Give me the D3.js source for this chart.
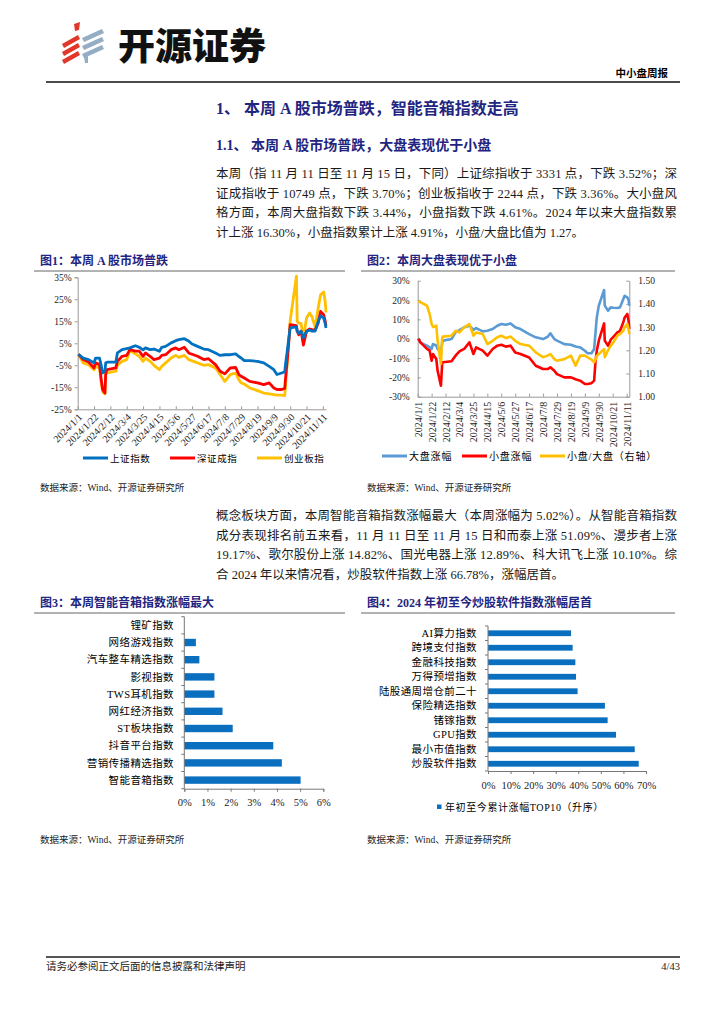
<!DOCTYPE html>
<html>
<head>
<meta charset="utf-8">
<script src="https://cdn.jsdelivr.net/npm/d3@7"></script>
<style>
  html, body { margin: 0; padding: 0; background: #fff; }
  svg { display: block; }
</style>
</head>
<body>
<div id="page"></div>
<script>
// ---- Figure 1: A-share indices, cumulative change since 2024/1/1 (%) ----
const c1Dates = ["2024/1/2","2024/1/8","2024/1/15","2024/1/22","2024/1/24","2024/1/29","2024/1/31","2024/2/2","2024/2/5","2024/2/6",
  "2024/2/8","2024/2/19","2024/2/21","2024/2/27","2024/3/4","2024/3/8","2024/3/15","2024/3/20","2024/3/25","2024/3/28",
  "2024/4/3","2024/4/8","2024/4/15","2024/4/18","2024/4/23","2024/4/30","2024/5/6","2024/5/10","2024/5/17","2024/5/23",
  "2024/5/27","2024/6/3","2024/6/11","2024/6/17","2024/6/26","2024/7/2","2024/7/8","2024/7/15","2024/7/22","2024/7/26",
  "2024/7/29","2024/8/2","2024/8/9","2024/8/19","2024/8/27","2024/9/3","2024/9/9","2024/9/13","2024/9/19","2024/9/23",
  "2024/9/24","2024/9/26","2024/9/27","2024/9/30","2024/10/8","2024/10/9","2024/10/11","2024/10/14","2024/10/17","2024/10/21",
  "2024/10/25","2024/10/28","2024/11/1","2024/11/5","2024/11/8","2024/11/12","2024/11/14","2024/11/15"];
const c1Shanghai = [0,-1.7,-2.4,-3.9,-1.7,-1.7,-4.7,-8.5,-7.5,-3.9,
  -3.6,-3.6,0.6,2.1,2.6,2.9,3.9,3.2,2.0,2.9,
  2.1,2.4,1.4,3.2,3.6,5.2,6.2,6.7,7.1,5.9,
  4.7,3.6,2.4,2.1,0.6,-0.5,-0.2,-0.2,0.2,-1.0,
  -1.7,-2.9,-2.9,-3.2,-3.9,-5.5,-7.0,-9.2,-8.5,-8.0,
  -4.5,0.8,3.8,12.0,12.5,10.5,9.7,10.5,7.5,10.5,
  11.0,10.5,10.5,15.0,17.5,16.5,14.0,12.0];
const c1Shenzhen = [0,-2.4,-3.5,-6.2,-3.9,-4.7,-10.8,-16.0,-17.6,-8.5,
  -7.0,-6.2,-3.2,-0.9,-0.5,2.1,1.4,1.4,-0.9,0.6,
  -0.9,-2.4,-1.7,-0.5,-0.2,2.1,2.9,2.1,3.2,0.5,
  0.0,-0.9,-2.4,-2.0,-4.7,-7.7,-8.9,-6.2,-6.0,-9.2,
  -10.0,-10.8,-12.3,-13.0,-13.8,-13.0,-15.3,-16.0,-16.0,-15.5,
  -11.0,-3.5,0.5,13.5,13.0,10.5,8.9,10.5,4.2,10.5,
  11.5,11.2,11.0,14.2,19.5,18.0,15.0,13.0];
const c1ChiNext = [0,-3.9,-4.7,-7.0,-5.5,-6.2,-12.3,-17.1,-18.0,-9.2,
  -8.5,-7.7,-5.0,-3.2,-2.4,1.7,0.2,-0.9,-3.2,-1.7,
  -3.2,-5.0,-7.0,-5.5,-3.9,-1.7,-0.5,-1.4,-0.5,-2.5,
  -3.0,-3.9,-5.0,-4.7,-6.2,-9.2,-12.3,-9.2,-8.5,-11.5,
  -13.0,-13.5,-15.3,-16.5,-17.6,-18.0,-18.3,-18.6,-18.6,-18.8,
  -14.0,-5.0,0.5,15.3,35.5,15.0,14.2,14.0,7.4,16.5,
  18.8,17.0,12.5,21.0,27.0,28.3,24.0,19.0];
const c1YTicks = [-25, -15, -5, 5, 15, 25, 35];
const c1Names = ["上证指数", "深证成指", "创业板指"];

// shared date tick labels (every three weeks)
const dateTicks = ["2024/1/1","2024/1/22","2024/2/12","2024/3/4","2024/3/25","2024/4/15","2024/5/6","2024/5/27",
  "2024/6/17","2024/7/8","2024/7/29","2024/8/19","2024/9/9","2024/9/30","2024/10/21","2024/11/11"];

// ---- Figure 2: large cap vs small cap (%), and small/large ratio (right axis) ----
const c2Dates = ["2024/1/2","2024/1/5","2024/1/10","2024/1/15","2024/1/19","2024/1/22","2024/1/24","2024/1/29","2024/1/31","2024/2/5",
  "2024/2/7","2024/2/8","2024/2/21","2024/2/27","2024/3/4","2024/3/11","2024/3/19","2024/3/25","2024/3/29","2024/4/8",
  "2024/4/15","2024/4/23","2024/4/30","2024/5/6","2024/5/13","2024/5/20","2024/5/27","2024/6/4","2024/6/17","2024/6/27",
  "2024/7/8","2024/7/15","2024/7/19","2024/7/25","2024/7/29","2024/8/9","2024/8/19","2024/8/26","2024/9/2","2024/9/9",
  "2024/9/13","2024/9/19","2024/9/23","2024/9/25","2024/9/27","2024/9/30","2024/10/8","2024/10/9","2024/10/14","2024/10/18",
  "2024/10/22","2024/10/28","2024/11/1","2024/11/6","2024/11/8","2024/11/12","2024/11/14","2024/11/15"];
const c2Large = [0,-1.9,-2.8,-3.6,-4.5,-5.3,-2.8,-3.5,-5.3,-7.1,
  -1.9,-1.0,-0.2,3.3,4.5,5.9,6.7,4.5,5.5,3.8,
  4.1,5.0,6.7,7.6,7.2,7.9,5.9,5.0,2.4,0.7,
  -0.2,1.0,2.8,-0.2,-1.0,-2.8,-3.1,-4.0,-4.5,-6.2,
  -7.5,-7.5,-5.3,3.0,11.0,17.1,25.2,17.1,14.5,16.2,
  16.0,15.9,16.2,20.5,22.2,21.4,20.0,17.1];
const c2Small = [0,-1.9,-3.6,-5.3,-6.2,-11.4,-7.9,-10.5,-16.6,-24.3,
  -12.2,-12.2,-11.7,-8.8,-6.6,-5.3,-1.9,-7.9,-4.5,-6.2,
  -8.8,-5.3,-3.6,-3.1,-4.1,-3.6,-7.1,-7.9,-9.7,-14.0,
  -15.7,-15.7,-14.8,-16.6,-18.3,-20.0,-20.0,-21.0,-21.7,-23.4,
  -23.4,-23.0,-21.7,-12.0,-6.2,-1.0,7.9,-1.0,-3.6,-0.5,
  1.0,3.3,4.1,8.5,11.0,12.8,9.0,5.0];
const c2Ratio = [1.414,1.407,1.400,1.392,1.356,1.313,1.300,1.306,1.241,1.141,
  1.256,1.259,1.263,1.284,1.277,1.299,1.313,1.263,1.277,1.270,
  1.227,1.241,1.256,1.263,1.253,1.259,1.241,1.227,1.220,1.191,
  1.170,1.177,1.184,1.162,1.155,1.162,1.177,1.134,1.177,1.177,
  1.170,1.160,1.148,1.160,1.177,1.184,1.205,1.170,1.200,1.220,
  1.234,1.263,1.270,1.285,1.300,1.313,1.290,1.270];
const c2YTicks = [-30, -20, -10, 0, 10, 20, 30];
const c2RTicks = [1.00, 1.10, 1.20, 1.30, 1.40, 1.50];
const c2Names = ["大盘涨幅", "小盘涨幅", "小盘/大盘（右轴）"];

// ---- Figure 3: weekly change of concept indices (%) ----
const c3Categories = ["锂矿指数","网络游戏指数","汽车整车精选指数","影视指数","TWS耳机指数","网红经济指数","ST板块指数","抖音平台指数","营销传播精选指数","智能音箱指数"];
const c3Values = [0, 0.50, 0.65, 1.30, 1.30, 1.65, 2.09, 3.84, 4.21, 5.02];
const c3XTicks = [0, 1, 2, 3, 4, 5, 6];

// ---- Figure 4: YTD change, top 10 (%) ----
const c4Categories = ["AI算力指数","跨境支付指数","金融科技指数","万得预增指数","陆股通周增仓前二十","保险精选指数","锗镓指数","GPU指数","最小市值指数","炒股软件指数"];
const c4Values = [36.8, 37.5, 38.7, 39.0, 39.7, 51.8, 53.0, 56.7, 65.0, 66.78];
const c4XTicks = [0, 10, 20, 30, 40, 50, 60, 70];
const c4Legend = "年初至今累计涨幅TOP10（升序）";

// ---- Page text ----
const heading1 = "1、  本周 A 股市场普跌，智能音箱指数走高";
const heading2 = "1.1、  本周 A 股市场普跌，大盘表现优于小盘";
const para1 = [
  "本周（指 11 月 11 日至 11 月 15 日，下同）上证综指收于 3331 点，下跌 3.52%；深",
  "证成指收于 10749 点，下跌 3.70%；创业板指收于 2244 点，下跌 3.36%。大小盘风",
  "格方面，本周大盘指数下跌 3.44%，小盘指数下跌 4.61%。2024 年以来大盘指数累",
  "计上涨 16.30%，小盘指数累计上涨 4.91%，小盘/大盘比值为 1.27。"
];
const para2 = [
  "概念板块方面，本周智能音箱指数涨幅最大（本周涨幅为 5.02%）。从智能音箱指数",
  "成分表现排名前五来看，11 月 11 日至 11 月 15 日和而泰上涨 51.09%、漫步者上涨",
  "19.17%、歌尔股份上涨 14.82%、国光电器上涨 12.89%、科大讯飞上涨 10.10%。综",
  "合 2024 年以来情况看，炒股软件指数上涨 66.78%，涨幅居首。"
];
const figTitles = ["图1：本周 A 股市场普跌", "图2：本周大盘表现优于小盘", "图3：本周智能音箱指数涨幅最大", "图4：2024 年初至今炒股软件指数涨幅居首"];
const sourceText = "数据来源：Wind、开源证券研究所";

// fonts / colours
const serif = "'Liberation Serif','Times New Roman','Noto Sans CJK SC',serif";
const sans = "'Noto Sans CJK SC','Noto Sans',sans-serif";
const navy = "#1f2580";

const width = 724, height = 1024;
const parseDate = d3.timeParse("%Y/%m/%d");
const fmtDate = d3.timeFormat("%Y/%-m/%-d");

const svg = d3.select("#page").append("svg")
    .attr("width", width)
    .attr("height", height)
    .style("font-family", serif);

svg.append("rect").attr("width", width).attr("height", height).attr("fill", "#fff");

// ---------- header ----------
const logo = svg.append("g");
// red strokes
[[62, 44], [62, 52], [62, 60]].forEach(([x0, y0]) => {
  logo.append("polygon")
      .attr("points", `${x0},${y0} ${x0 + 16},${y0 - 9} ${x0 + 18},${y0 - 5} ${x0 + 2},${y0 + 4}`)
      .attr("fill", "#e0392b");
});
logo.append("polygon").attr("points", "74,24 80,22 79,30 75,31").attr("fill", "#e0392b");
// blue-grey strokes
[[82, 38], [82, 46], [82, 54]].forEach(([x0, y0]) => {
  logo.append("polygon")
      .attr("points", `${x0},${y0} ${x0 + 20},${y0 - 9} ${x0 + 22},${y0 - 5} ${x0 + 2},${y0 + 4}`)
      .attr("fill", "#93aec4");
});
logo.append("polygon").attr("points", "84,57 88,56 88,63 85,63").attr("fill", "#93aec4");

svg.append("text")
    .attr("x", 118).attr("y", 60)
    .attr("font-family", sans).attr("font-weight", 900).attr("font-size", 37)
    .attr("fill", "#111")
    .text("开源证券");

svg.append("text")
    .attr("x", 668).attr("y", 77)
    .attr("text-anchor", "end")
    .attr("font-family", sans).attr("font-weight", 700).attr("font-size", 10.5)
    .text("中小盘周报");

svg.append("line").attr("x1", 46).attr("x2", 680).attr("y1", 82).attr("y2", 82)
    .attr("stroke", "#111").attr("stroke-width", 1.5);

// ---------- headings & paragraphs ----------
svg.append("text").attr("x", 216).attr("y", 114)
    .attr("font-weight", 700).attr("font-size", 16).attr("fill", navy)
    .attr("font-family", "'Liberation Serif','Noto Sans CJK SC',serif")
    .text(heading1);

svg.append("text").attr("x", 216).attr("y", 150)
    .attr("font-weight", 700).attr("font-size", 14).attr("fill", navy)
    .attr("font-family", "'Liberation Serif','Noto Sans CJK SC',serif")
    .text(heading2);

function paragraph(lines, x, y0, lineH, w) {
  lines.forEach((t, i) => {
    const el = svg.append("text")
        .attr("x", x).attr("y", y0 + i * lineH)
        .attr("font-size", 12.5).attr("fill", "#1a1a1a")
        .text(t);
    if (i < lines.length - 1) el.attr("textLength", w).attr("lengthAdjust", "spacing");
  });
}
paragraph(para1, 216, 178, 19.6, 461);
paragraph(para2, 216, 520, 19.6, 461);

// ---------- figure titles, rules and sources ----------
const figBoxes = [
  {x: 40, x2: 345, y: 265, src: 491},
  {x: 367, x2: 675, y: 265, src: 491},
  {x: 40, x2: 345, y: 607, src: 843},
  {x: 367, x2: 675, y: 607, src: 843}
];
figBoxes.forEach((b, i) => {
  svg.append("text").attr("x", b.x).attr("y", b.y)
      .attr("font-weight", 700).attr("font-size", 12).attr("fill", navy)
      .attr("font-family", "'Liberation Serif','Noto Sans CJK SC',serif")
      .text(figTitles[i]);
  svg.append("line").attr("x1", b.x - 6).attr("x2", b.x2).attr("y1", b.y + 6).attr("y2", b.y + 6)
      .attr("stroke", "#666").attr("stroke-width", 1);
  svg.append("text").attr("x", b.x).attr("y", b.src)
      .attr("font-size", 9.5).attr("fill", "#222")
      .text(sourceText);
});

// ---------- footer ----------
svg.append("line").attr("x1", 46).attr("x2", 680).attr("y1", 957).attr("y2", 957)
    .attr("stroke", "#555").attr("stroke-width", 1.8);
svg.append("text").attr("x", 46).attr("y", 970)
    .attr("font-size", 10.5).attr("fill", "#222").text("请务必参阅正文后面的信息披露和法律声明");
svg.append("text").attr("x", 680).attr("y", 970).attr("text-anchor", "end")
    .attr("font-size", 10.5).attr("fill", "#222").text("4/43");

// small helper for axis styling
function styleAxis(g, color) {
  g.select(".domain").attr("stroke", color);
  g.selectAll(".tick line").attr("stroke", color);
  g.selectAll(".tick text").attr("fill", "#222").attr("font-family", serif);
}

// ---------- Figure 1 ----------
const x1 = d3.scaleTime()
    .domain([parseDate("2024/1/1"), parseDate("2024/11/15")])
    .range([77.7, 326]);
const y1 = d3.scaleLinear().domain([-25, 35]).range([409.3, 277.3]);

const g1 = svg.append("g");
g1.append("g").attr("transform", "translate(77.7,0)")
    .call(d3.axisLeft(y1).tickValues(c1YTicks).tickSize(3).tickFormat(d => d + "%"))
    .call(g => { styleAxis(g, "#999"); g.selectAll(".tick text").attr("font-size", 9.5); });

g1.append("g").attr("transform", "translate(0,409.3)")
    .call(d3.axisBottom(x1).tickValues(dateTicks.map(parseDate)).tickSizeInner(-3).tickSizeOuter(0).tickFormat(fmtDate))
    .call(g => {
      styleAxis(g, "#999");
      g.selectAll(".tick text")
          .attr("font-size", 10)
          .attr("text-anchor", "end")
          .attr("x", 0).attr("y", 0).attr("dy", "0.35em")
          .attr("transform", "translate(2,6) rotate(-45)");
    });

const c1Series = [
  {name: c1Names[0], values: c1Shanghai, color: "#0070c0"},
  {name: c1Names[1], values: c1Shenzhen, color: "#ff0000"},
  {name: c1Names[2], values: c1ChiNext, color: "#ffc000"}
];
const line1 = d3.line().x(d => x1(d[0])).y(d => y1(d[1]));
// draw back to front so that the blue line sits on top, as in the reference
[c1Series[2], c1Series[1], c1Series[0]].forEach(s => {
  g1.append("path")
      .datum(c1Dates.map((d, i) => [parseDate(d), s.values[i]]))
      .attr("fill", "none").attr("stroke", s.color).attr("stroke-width", 2.8)
      .attr("stroke-linejoin", "round")
      .attr("d", line1);
});

const leg1X = [83, 170, 257];
c1Series.forEach((s, i) => {
  g1.append("line").attr("x1", leg1X[i]).attr("x2", leg1X[i] + 25).attr("y1", 458).attr("y2", 458)
      .attr("stroke", s.color).attr("stroke-width", 3);
  g1.append("text").attr("x", leg1X[i] + 27).attr("y", 461.5)
      .attr("font-size", 9.5).attr("letter-spacing", 0.6).text(s.name);
});

// ---------- Figure 2 ----------
const x2 = d3.scaleTime()
    .domain([parseDate("2024/1/1"), parseDate("2024/11/15")])
    .range([417.7, 629.3]);
const y2 = d3.scaleLinear().domain([-30, 30]).range([396.7, 280.7]);
const y2r = d3.scaleLinear().domain([1.0, 1.5]).range([396.7, 280.7]);

const g2 = svg.append("g");
g2.append("g").attr("transform", "translate(417.7,0)")
    .call(d3.axisLeft(y2).tickValues(c2YTicks).tickSizeInner(-3).tickSizeOuter(0).tickFormat(d => d + "%").tickPadding(8))
    .call(g => { styleAxis(g, "#999"); g.selectAll(".tick text").attr("font-size", 9.5); });
g2.append("g").attr("transform", "translate(629.3,0)")
    .call(d3.axisRight(y2r).tickValues(c2RTicks).tickSizeInner(-3).tickSizeOuter(0).tickFormat(d3.format(".2f")).tickPadding(9))
    .call(g => { styleAxis(g, "#999"); g.selectAll(".tick text").attr("font-size", 9.5); });
g2.append("g").attr("transform", "translate(0,396.7)")
    .call(d3.axisBottom(x2).tickValues(dateTicks.map(parseDate)).tickSizeInner(-3).tickSizeOuter(0).tickFormat(fmtDate))
    .call(g => {
      styleAxis(g, "#999");
      g.selectAll(".tick text")
          .attr("font-size", 10)
          .attr("text-anchor", "end")
          .attr("x", 0).attr("y", 0).attr("dy", "0.35em")
          .attr("transform", "translate(0,5) rotate(-90)");
    });

const line2 = d3.line().x(d => x2(d[0])).y(d => y2(d[1]));
const line2r = d3.line().x(d => x2(d[0])).y(d => y2r(d[1]));
const c2Series = [
  {name: c2Names[0], values: c2Large, color: "#5b9bd5", gen: line2},
  {name: c2Names[1], values: c2Small, color: "#ff0000", gen: line2},
  {name: c2Names[2], values: c2Ratio, color: "#ffc000", gen: line2r}
];
c2Series.forEach(s => {
  g2.append("path")
      .datum(c2Dates.map((d, i) => [parseDate(d), s.values[i]]))
      .attr("fill", "none").attr("stroke", s.color).attr("stroke-width", 2.6)
      .attr("stroke-linejoin", "round")
      .attr("d", s.gen);
});

const leg2X = [382, 462, 540];
c2Series.forEach((s, i) => {
  g2.append("line").attr("x1", leg2X[i]).attr("x2", leg2X[i] + 25).attr("y1", 456).attr("y2", 456)
      .attr("stroke", s.color).attr("stroke-width", 3);
  g2.append("text").attr("x", leg2X[i] + 27).attr("y", 460)
      .attr("font-size", 10).attr("letter-spacing", 0.8).text(s.name);
});

// ---------- Figure 3 (horizontal bars) ----------
const x3 = d3.scaleLinear().domain([0, 6]).range([184.3, 323.3]);
const y3 = d3.scaleBand().domain(c3Categories).range([616.7, 788.7]).paddingInner(0.57).paddingOuter(0.285);

const g3 = svg.append("g");
g3.selectAll("rect").data(c3Categories).join("rect")
    .attr("x", x3(0))
    .attr("y", d => y3(d))
    .attr("width", (d, i) => x3(c3Values[i]) - x3(0))
    .attr("height", y3.bandwidth())
    .attr("fill", "#0b6fc0");

g3.append("g").attr("transform", "translate(0,788.7)")
    .call(d3.axisBottom(x3).tickValues(c3XTicks).tickSize(3).tickFormat(d => d + "%").tickPadding(7))
    .call(g => { styleAxis(g, "#777"); g.selectAll(".tick text").attr("font-size", 10.5); });

// y axis: line + boundary ticks + category labels
const step3 = y3.step();
g3.append("line").attr("x1", x3(0)).attr("x2", x3(0)).attr("y1", 616.7).attr("y2", 788.7).attr("stroke", "#777");
d3.range(c3Categories.length + 1).forEach(i => {
  const yy = 616.7 + i * step3;
  g3.append("line").attr("x1", x3(0) - 3).attr("x2", x3(0)).attr("y1", yy).attr("y2", yy).attr("stroke", "#777");
});
g3.selectAll("text.cat").data(c3Categories).join("text")
    .attr("class", "cat")
    .attr("x", 174)
    .attr("y", d => y3(d) + y3.bandwidth() / 2)
    .attr("dy", "0.35em")
    .attr("text-anchor", "end")
    .attr("font-size", 10.5).attr("letter-spacing", 0.4)
    .text(d => d);

// ---------- Figure 4 (horizontal bars) ----------
const x4 = d3.scaleLinear().domain([0, 70]).range([488, 646]);
const y4 = d3.scaleBand().domain(c4Categories).range([626, 771]).paddingInner(0.6).paddingOuter(0.3);

const g4 = svg.append("g");
g4.selectAll("rect").data(c4Categories).join("rect")
    .attr("x", x4(0))
    .attr("y", d => y4(d))
    .attr("width", (d, i) => x4(c4Values[i]) - x4(0))
    .attr("height", y4.bandwidth())
    .attr("fill", "#0b6fc0");

g4.append("g").attr("transform", "translate(0,771)")
    .call(d3.axisBottom(x4).tickValues(c4XTicks).tickSize(3).tickFormat(d => d + "%").tickPadding(8))
    .call(g => { styleAxis(g, "#777"); g.selectAll(".tick text").attr("font-size", 10.5); });

const step4 = y4.step();
g4.append("line").attr("x1", x4(0)).attr("x2", x4(0)).attr("y1", 626).attr("y2", 771).attr("stroke", "#777");
d3.range(c4Categories.length + 1).forEach(i => {
  const yy = 626 + i * step4;
  g4.append("line").attr("x1", x4(0) - 3).attr("x2", x4(0)).attr("y1", yy).attr("y2", yy).attr("stroke", "#777");
});
g4.selectAll("text.cat").data(c4Categories).join("text")
    .attr("class", "cat")
    .attr("x", 477)
    .attr("y", d => y4(d) + y4.bandwidth() / 2)
    .attr("dy", "0.35em")
    .attr("text-anchor", "end")
    .attr("font-size", 10.5).attr("letter-spacing", 0.4)
    .text(d => d);

g4.append("rect").attr("x", 437).attr("y", 804.5).attr("width", 4.5).attr("height", 4.5).attr("fill", "#0b6fc0");
g4.append("text").attr("x", 445).attr("y", 810.5)
    .attr("font-size", 10).attr("letter-spacing", 0.6).text(c4Legend);
</script>
</body>
</html>
